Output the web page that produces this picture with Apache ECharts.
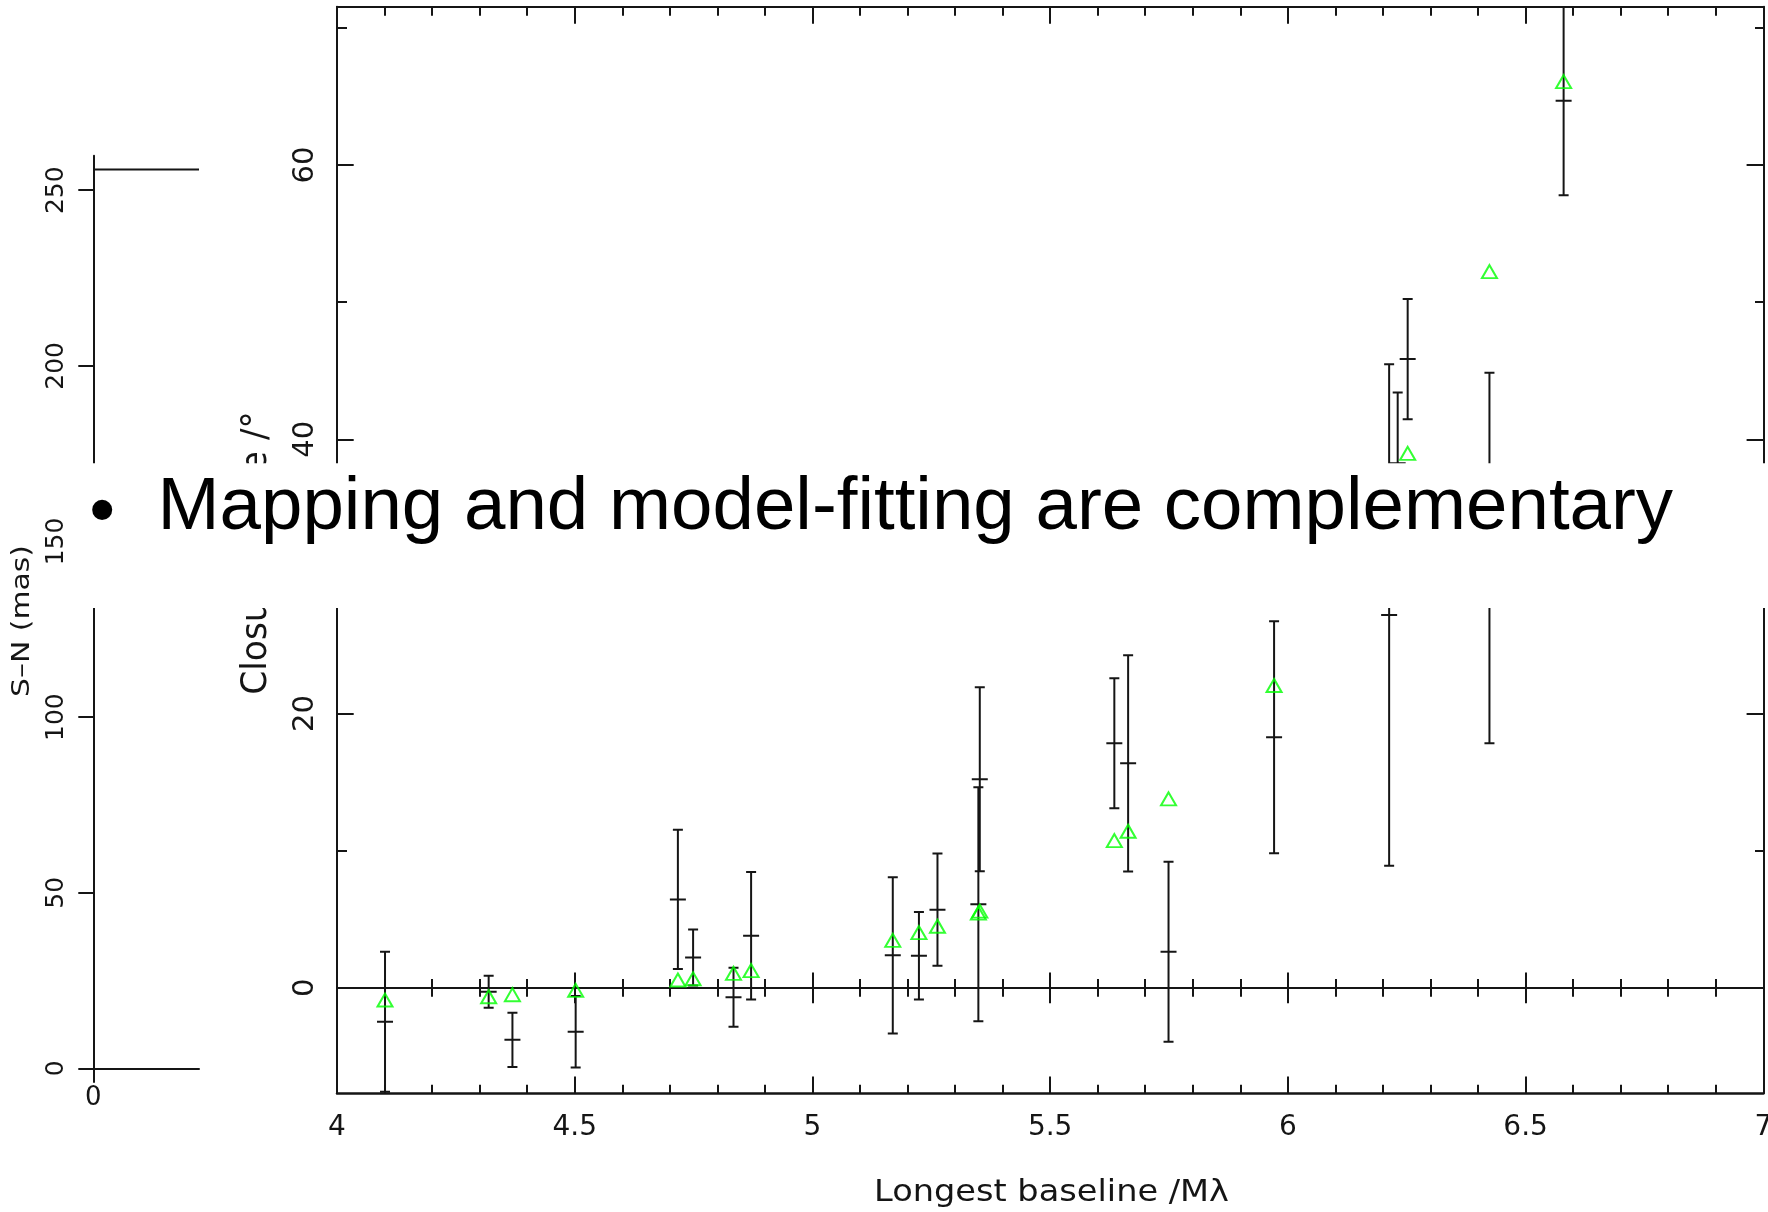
<!DOCTYPE html>
<html>
<head>
<meta charset="utf-8">
<script src="https://cdn.jsdelivr.net/npm/echarts@6/dist/echarts.min.js"></script>
<style>
html,body{margin:0;padding:0;background:#fff;}
#c{width:1768px;height:1212px;}
</style>
</head>
<body>
<div id="c"></div>
<script>
// ---- Data ----
const baseline      = [4.101, 4.319, 4.369, 4.502, 4.717, 4.749, 4.834, 4.871, 5.169, 5.224, 5.263, 5.349, 5.352, 5.635, 5.664, 5.749, 5.971, 6.213, 6.231, 6.252, 6.424, 6.580];
const closurePhase  = [-2.47, -0.28, -3.79, -3.20, 6.45, 2.22, -0.69, 3.80, 2.37, 2.34, 5.70, 6.10, 15.21, 17.83, 16.37, 2.63, 18.27, 27.19, 38.26, 45.85, 31.35, 64.70];
const phaseError    = [5.10, 1.17, 1.98, 2.60, 5.08, 2.04, 2.15, 4.65, 5.69, 3.19, 4.09, 8.53, 6.71, 4.74, 7.89, 6.56, 8.46, 18.28, 5.15, 4.38, 13.51, 6.90];
const modelPhase    = [-0.89, -0.65, -0.50, -0.18, 0.57, 0.66, 1.06, 1.26, 3.46, 4.03, 4.49, 5.45, 5.60, 10.74, 11.42, 13.78, 22.05, null, null, 38.98, 52.23, 66.09];

const phaseTicks      = [0, 20, 40, 60];
const phaseMinorTicks = [10, 30, 50, 70];
const snTicks         = [0, 50, 100, 150, 200, 250];
const snXTicks        = [0];
const snTrack         = [[0, 255.9], [1, 255.9]];

const xTitle  = 'Longest baseline /M\u03bb';
const yTitle  = 'Closure phase /\u00b0';
const snTitle = 'S\u2013N (mas)';
const bulletText = 'Mapping and model-fitting are complementary';

// ---- Style ----
const INK = '#151515';
const GREEN = '#00ff00';
const FF = 'DejaVu Sans';
const Y_MIN = -7.69, Y_MAX = 71.55;

function tickStyle(w){ return {color: INK, width: w || 2}; }

const chart = echarts.init(document.getElementById('c'), null, {renderer: 'canvas'});

const errData = baseline.map((b, i) => [b, closurePhase[i], phaseError[i]]);
const modelData = baseline.map((b, i) => [b, modelPhase[i]]).filter(d => d[1] !== null);

function renderErr(params, api) {
  const x = api.value(0), v = api.value(1), e = api.value(2);
  const top = api.coord([x, v + e]);
  const bot = api.coord([x, v - e]);
  const mid = api.coord([x, v]);
  const cap = 5, tk = 8;
  const st = {stroke: INK, lineWidth: 2};
  return {
    type: 'group',
    children: [
      {type: 'line', shape: {x1: top[0], y1: top[1], x2: bot[0], y2: bot[1]}, style: st},
      {type: 'line', shape: {x1: top[0] - cap, y1: top[1], x2: top[0] + cap, y2: top[1]}, style: st},
      {type: 'line', shape: {x1: bot[0] - cap, y1: bot[1], x2: bot[0] + cap, y2: bot[1]}, style: st},
      {type: 'line', shape: {x1: mid[0] - tk, y1: mid[1], x2: mid[0] + tk, y2: mid[1]}, style: st}
    ]
  };
}

const mainX = (extra) => Object.assign({
  gridIndex: 1, type: 'value', min: 4, max: 7, interval: 0.5,
  splitLine: {show: false},
  axisLabel: {show: false}
}, extra);

const option = {
  animation: false,
  backgroundColor: '#fff',
  grid: [
    {left: 93.3, top: 155.8, width: 105.7, height: 912.6, outerBoundsMode: 'none', containLabel: false},
    {left: 337, top: 6.7, right: 4.7, bottom: 118.7, outerBoundsMode: 'none', containLabel: false}
  ],
  xAxis: [
    {
      gridIndex: 0, type: 'value', min: 0, max: 1, position: 'bottom',
      axisLine: {show: true, onZero: false, lineStyle: tickStyle(2)},
      axisTick: {show: true, inside: false, length: 14.4, customValues: snXTicks, lineStyle: tickStyle(2)},
      axisLabel: {show: true, customValues: snXTicks, fontSize: 26, margin: 17, color: INK, fontFamily: FF},
      splitLine: {show: false}
    },
    mainX({
      position: 'bottom',
      axisLine: {show: true, onZero: false, lineStyle: tickStyle(2.5)},
      axisTick: {show: true, inside: true, length: 16.7, lineStyle: tickStyle(2)},
      minorTick: {show: true, splitNumber: 5, length: 8.5, lineStyle: tickStyle(2)},
      axisLabel: {show: true, fontSize: 28, margin: 20, color: INK, fontFamily: FF, showMinLabel: true, showMaxLabel: true}
    }),
    mainX({
      position: 'top',
      axisLine: {show: true, onZero: false, lineStyle: tickStyle(2)},
      axisTick: {show: true, inside: true, length: 17, lineStyle: tickStyle(2)},
      minorTick: {show: true, splitNumber: 5, length: 9, lineStyle: tickStyle(2)}
    }),
    mainX({
      position: 'bottom',
      axisLine: {show: true, onZero: true, onZeroAxisIndex: 1, lineStyle: tickStyle(2)},
      axisTick: {show: true, inside: true, length: 15.3, lineStyle: tickStyle(2)},
      minorTick: {show: true, splitNumber: 5, length: 8.8, lineStyle: tickStyle(2)}
    }),
    mainX({
      position: 'bottom',
      axisLine: {show: true, onZero: true, onZeroAxisIndex: 1, lineStyle: tickStyle(2)},
      axisTick: {show: true, inside: false, length: 15.3, lineStyle: tickStyle(2)},
      minorTick: {show: true, splitNumber: 5, length: 8.8, lineStyle: tickStyle(2)}
    })
  ],
  yAxis: [
    {
      gridIndex: 0, type: 'value', min: 0, max: 259.8, position: 'left',
      axisLine: {show: true, onZero: false, lineStyle: tickStyle(2)},
      axisTick: {show: true, inside: false, length: 15, customValues: snTicks, lineStyle: tickStyle(2)},
      axisLabel: {show: true, customValues: snTicks, rotate: 90, fontSize: 25, margin: 24, color: INK, fontFamily: FF},
      splitLine: {show: false}
    },
    {
      gridIndex: 1, type: 'value', min: Y_MIN, max: Y_MAX, position: 'left',
      axisLine: {show: true, onZero: false, lineStyle: tickStyle(2)},
      axisTick: {show: true, inside: true, length: 16.7, customValues: phaseTicks, lineStyle: tickStyle(2)},
      axisLabel: {show: true, customValues: phaseTicks, rotate: 90, fontSize: 29, margin: 17, color: INK, fontFamily: FF},
      splitLine: {show: false}
    },
    {
      gridIndex: 1, type: 'value', min: Y_MIN, max: Y_MAX, position: 'left',
      axisLine: {show: false, onZero: false},
      axisTick: {show: true, inside: true, length: 10, customValues: phaseMinorTicks, lineStyle: tickStyle(2)},
      axisLabel: {show: false},
      splitLine: {show: false}
    },
    {
      gridIndex: 1, type: 'value', min: Y_MIN, max: Y_MAX, position: 'right',
      axisLine: {show: true, onZero: false, lineStyle: tickStyle(2)},
      axisTick: {show: true, inside: true, length: 16.7, customValues: phaseTicks, lineStyle: tickStyle(2)},
      axisLabel: {show: false},
      splitLine: {show: false}
    },
    {
      gridIndex: 1, type: 'value', min: Y_MIN, max: Y_MAX, position: 'right',
      axisLine: {show: false, onZero: false},
      axisTick: {show: true, inside: true, length: 8.3, customValues: phaseMinorTicks, lineStyle: tickStyle(2)},
      axisLabel: {show: false},
      splitLine: {show: false}
    }
  ],
  series: [
    {
      type: 'line', xAxisIndex: 0, yAxisIndex: 0, data: snTrack,
      symbol: 'none', lineStyle: {color: INK, width: 2}, silent: true
    },
    {
      type: 'custom', xAxisIndex: 1, yAxisIndex: 1, data: errData,
      renderItem: renderErr, clip: true, z: 3, silent: true,
      encode: {x: 0, y: 1}
    },
    {
      type: 'scatter', xAxisIndex: 1, yAxisIndex: 1, data: modelData,
      symbol: 'triangle', symbolSize: [15, 13], z: 4, silent: true,
      itemStyle: {color: 'rgba(0,0,0,0)', borderColor: GREEN, borderWidth: 2}
    }
  ],
  graphic: [
    {
      type: 'text', z: 1, x: 256.5, y: 553, rotation: Math.PI / 2, scaleX: 1.11, scaleY: 1.14,
      style: {text: yTitle, fontSize: 31, fontFamily: FF, fill: INK, align: 'center', verticalAlign: 'middle', textAlign: 'center', textVerticalAlign: 'middle'}
    },
    {
      type: 'text', z: 1, x: 22.6, y: 621, rotation: Math.PI / 2, scaleX: 1.195, scaleY: 1,
      style: {text: snTitle, fontSize: 25, fontFamily: FF, fill: INK, align: 'center', verticalAlign: 'middle', textAlign: 'center', textVerticalAlign: 'middle'}
    },
    {
      type: 'text', z: 1, x: 1051.5, y: 1192.8, scaleX: 1.12, scaleY: 1,
      style: {text: xTitle, fontSize: 30, fontFamily: FF, fill: INK, align: 'center', verticalAlign: 'middle', textAlign: 'center', textVerticalAlign: 'middle'}
    },
    {
      type: 'rect', z: 50, shape: {x: 70, y: 463.3, width: 1698, height: 144.7},
      style: {fill: '#ffffff'}
    },
    {
      type: 'text', z: 60, x: 102.3, y: 515,
      style: {text: '\u2022', fontSize: 74, fontFamily: 'Liberation Sans', fill: '#000', align: 'center', verticalAlign: 'middle', textAlign: 'center', textVerticalAlign: 'middle'}
    },
    {
      type: 'text', z: 60, x: 157.5, y: 508.8,
      style: {text: bulletText, fontSize: 74.5, fontFamily: 'Liberation Sans', fill: '#000', align: 'left', verticalAlign: 'middle', textAlign: 'left', textVerticalAlign: 'middle'}
    }
  ]
};

chart.setOption(option);
</script>
</body>
</html>
